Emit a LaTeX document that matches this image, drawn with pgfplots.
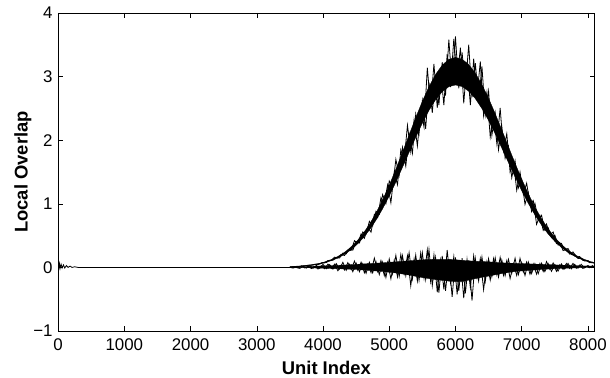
\documentclass[border=0pt]{standalone}
\usepackage{fontspec}
\setmainfont{Liberation Sans}
\usepackage{pgfplots}
\pgfplotsset{compat=1.18}
\begin{document}
\begin{tikzpicture}
\begin{axis}[
  scale only axis, width=538bp, height=319bp,
  xmin=0, xmax=8100, ymin=-1, ymax=4,
  xtick={0,1000,2000,3000,4000,5000,6000,7000,8000},
  ytick={-1,0,1,2,3,4},
  yticklabels={−1,0,1,2,3,4},
  xticklabels={0,1000,2000,3000,4000,5000,6000,7000,8000},
  tick align=inside, xtick pos=both, ytick pos=both,
  major tick length=5bp,
  axis line style={line width=0.7bp},
  every tick/.style={black, line width=0.5bp},
  tick label style={font=\fontsize{17}{19}\selectfont},
  xticklabel style={yshift=-4bp},
  yticklabel style={xshift=-2bp},
  every axis y label/.style={at={(axis description cs:-0.0656,0.5)},rotate=90,anchor=center,font=\fontsize{18.5}{20}\selectfont\bfseries},
  every axis x label/.style={at={(axis description cs:0.5,-0.115)},anchor=center,font=\fontsize{18.5}{20}\selectfont\bfseries},
  xlabel={Unit Index}, ylabel={Local Overlap},
  scaled x ticks=false,
]
% baseline and start bump
\addplot[black, line width=0.8bp] coordinates {(0,0.07)(10,-0.02)(20,0.06)(30,-0.015)(45,0.05)(60,-0.01)(80,0.04)(100,-0.01)(125,0.03)(150,0)(180,0.02)(210,0)(250,0.01)(300,0)(3500,0)};
% big band core
\addplot[fill=black, draw=black, line width=0.3bp] coordinates {(3500,0.010)(3600,0.015)(3700,0.023)(3800,0.035)(3900,0.052)(4000,0.078)(4100,0.112)(4200,0.158)(4300,0.219)(4400,0.299)(4500,0.399)(4600,0.525)(4700,0.676)(4800,0.855)(4900,1.061)(5000,1.292)(5100,1.544)(5200,1.812)(5300,2.084)(5400,2.355)(5500,2.611)(5600,2.841)(5700,3.034)(5800,3.180)(5900,3.271)(6000,3.302)(6100,3.273)(6200,3.190)(6300,3.054)(6400,2.874)(6500,2.659)(6600,2.418)(6700,2.160)(6800,1.898)(6900,1.638)(7000,1.389)(7100,1.159)(7200,0.949)(7300,0.765)(7400,0.605)(7500,0.471)(7600,0.360)(7700,0.271)(7800,0.200)(7900,0.146)(8000,0.104)(8100,0.072)
(8100,0.063)(8000,0.091)(7900,0.127)(7800,0.174)(7700,0.235)(7600,0.313)(7500,0.409)(7400,0.525)(7300,0.664)(7200,0.824)(7100,1.006)(7000,1.206)(6900,1.423)(6800,1.648)(6700,1.876)(6600,2.100)(6500,2.310)(6400,2.497)(6300,2.653)(6200,2.770)(6100,2.843)(6000,2.868)(5900,2.841)(5800,2.762)(5700,2.635)(5600,2.468)(5500,2.268)(5400,2.045)(5300,1.810)(5200,1.573)(5100,1.341)(5000,1.122)(4900,0.921)(4800,0.743)(4700,0.587)(4600,0.456)(4500,0.347)(4400,0.260)(4300,0.191)(4200,0.137)(4100,0.097)(4000,0.068)(3900,0.045)(3800,0.031)(3700,0.020)(3600,0.013)(3500,0.008)} -- cycle;
% big band noise (a)
\addplot[black, line width=0.8bp] coordinates {(3500,0.010)(3550,0.010)(3600,0.016)(3650,0.016)(3700,0.025)(3750,0.025)(3800,0.039)(3850,0.037)(3900,0.054)(3950,0.052)(4000,0.078)(4050,0.076)(4100,0.114)(4150,0.113)(4200,0.158)(4250,0.149)(4300,0.225)(4350,0.212)(4400,0.298)(4450,0.271)(4500,0.405)(4550,0.384)(4600,0.557)(4650,0.522)(4700,0.724)(4750,0.652)(4800,0.883)(4850,0.834)(4900,1.145)(4950,1.003)(5000,1.359)(5050,1.250)(5100,1.697)(5150,1.448)(5200,1.888)(5250,1.591)(5300,2.094)(5350,1.793)(5400,2.410)(5450,2.100)(5500,2.624)(5550,2.179)(5600,2.908)(5650,2.431)(5700,3.020)(5750,2.550)(5800,3.225)(5850,2.700)(5900,3.580)(5950,2.877)(6000,3.630)(6050,2.816)(6100,3.380)(6150,2.827)(6200,3.500)(6250,2.673)(6300,3.212)(6350,2.621)(6400,3.158)(6450,2.393)(6500,2.772)(6550,2.076)(6600,2.429)(6650,1.849)(6700,2.211)(6750,1.715)(6800,1.907)(6850,1.410)(6900,1.676)(6950,1.249)(7000,1.382)(7050,0.991)(7100,1.175)(7150,0.878)(7200,1.007)(7250,0.746)(7300,0.819)(7350,0.582)(7400,0.625)(7450,0.467)(7500,0.508)(7550,0.352)(7600,0.379)(7650,0.276)(7700,0.297)(7750,0.201)(7800,0.209)(7850,0.140)(7900,0.147)(7950,0.100)(8000,0.107)(8050,0.074)(8100,0.073)};
% big band noise (b)
\addplot[black, line width=0.8bp] coordinates {(3525,0.009)(3575,0.013)(3625,0.013)(3675,0.022)(3725,0.023)(3775,0.035)(3825,0.035)(3875,0.050)(3925,0.044)(3975,0.071)(4025,0.069)(4075,0.109)(4125,0.109)(4175,0.161)(4225,0.145)(4275,0.206)(4325,0.188)(4375,0.271)(4425,0.267)(4475,0.421)(4525,0.375)(4575,0.527)(4625,0.458)(4675,0.628)(4725,0.554)(4775,0.835)(4825,0.782)(4875,1.098)(4925,1.007)(4975,1.296)(5025,1.017)(5075,1.487)(5125,1.300)(5175,1.850)(5225,1.677)(5275,2.234)(5325,1.819)(5375,2.320)(5425,1.908)(5475,2.488)(5525,2.207)(5575,3.139)(5625,2.525)(5675,3.199)(5725,2.510)(5775,3.102)(5825,2.550)(5875,3.358)(5925,2.836)(5975,3.593)(6025,2.973)(6075,3.454)(6125,2.580)(6175,3.229)(6225,2.551)(6275,3.280)(6325,2.687)(6375,3.237)(6425,2.385)(6475,2.753)(6525,2.051)(6575,2.421)(6625,1.945)(6675,2.507)(6725,1.829)(6775,2.102)(6825,1.497)(6875,1.678)(6925,1.212)(6975,1.498)(7025,1.149)(7075,1.324)(7125,0.996)(7175,1.052)(7225,0.677)(7275,0.813)(7325,0.584)(7375,0.683)(7425,0.508)(7475,0.557)(7525,0.373)(7575,0.392)(7625,0.265)(7675,0.285)(7725,0.208)(7775,0.244)(7825,0.162)(7875,0.170)(7925,0.110)(7975,0.112)(8025,0.074)(8075,0.083)};
% small band core
\addplot[fill=black, draw=black, line width=0.3bp] coordinates {(3500,0.004)(3700,0.012)(3900,0.02)(4100,0.028)(4300,0.036)(4500,0.048)(4700,0.06)(4900,0.072)(5100,0.088)(5300,0.104)(5500,0.12)(5700,0.128)(5900,0.128)(6000,0.12)(6100,0.112)(6300,0.096)(6500,0.088)(6700,0.072)(6900,0.064)(7100,0.056)(7300,0.048)(7500,0.04)(7700,0.032)(7900,0.024)(8100,0.02)
(8100,0.004)(7900,-0.004)(7700,-0.012)(7500,-0.02)(7300,-0.032)(7100,-0.048)(6900,-0.064)(6700,-0.096)(6500,-0.136)(6300,-0.176)(6100,-0.224)(6000,-0.224)(5900,-0.216)(5700,-0.192)(5500,-0.16)(5300,-0.12)(5100,-0.088)(4900,-0.064)(4700,-0.048)(4500,-0.032)(4300,-0.024)(4100,-0.016)(3900,-0.01)(3700,-0.004)(3500,-0.004)} -- cycle;
% small band noise (a)
\addplot[black, line width=0.8bp] coordinates {(3500,0.006)(3550,-0.010)(3600,0.008)(3650,-0.015)(3700,0.016)(3750,-0.010)(3800,0.027)(3850,-0.014)(3900,0.032)(3950,-0.014)(4000,0.048)(4050,-0.021)(4100,0.045)(4150,-0.027)(4200,0.060)(4250,-0.028)(4300,0.080)(4350,-0.046)(4400,0.050)(4450,-0.068)(4500,0.068)(4550,-0.068)(4600,0.060)(4650,-0.093)(4700,0.081)(4750,-0.085)(4800,0.090)(4850,-0.113)(4900,0.085)(4950,-0.158)(5000,0.133)(5050,-0.103)(5100,0.189)(5150,-0.145)(5200,0.184)(5250,-0.130)(5300,0.233)(5350,-0.180)(5400,0.195)(5450,-0.204)(5500,0.230)(5550,-0.190)(5600,0.280)(5650,-0.287)(5700,0.154)(5750,-0.396)(5800,0.182)(5850,-0.370)(5900,0.135)(5950,-0.464)(6000,0.156)(6050,-0.370)(6100,0.144)(6150,-0.406)(6200,0.110)(6250,-0.520)(6300,0.140)(6350,-0.213)(6400,0.162)(6450,-0.220)(6500,0.136)(6550,-0.147)(6600,0.152)(6650,-0.152)(6700,0.116)(6750,-0.131)(6800,0.128)(6850,-0.094)(6900,0.145)(6950,-0.114)(7000,0.077)(7050,-0.126)(7100,0.085)(7150,-0.096)(7200,0.060)(7250,-0.098)(7300,0.066)(7350,-0.066)(7400,0.060)(7450,-0.062)(7500,0.045)(7550,-0.058)(7600,0.056)(7650,-0.025)(7700,0.063)(7750,-0.023)(7800,0.048)(7850,-0.013)(7900,0.048)(7950,-0.009)(8000,0.030)(8050,-0.003)(8100,0.026)};
% small band noise (b)
\addplot[black, line width=0.8bp] coordinates {(3525,-0.010)(3575,0.006)(3625,-0.011)(3675,0.023)(3725,-0.009)(3775,0.018)(3825,-0.018)(3875,0.017)(3925,-0.026)(3975,0.026)(4025,-0.022)(4075,0.052)(4125,-0.017)(4175,0.051)(4225,-0.053)(4275,0.039)(4325,-0.041)(4375,0.075)(4425,-0.033)(4475,0.100)(4525,-0.046)(4575,0.082)(4625,-0.085)(4675,0.053)(4725,-0.082)(4775,0.147)(4825,-0.064)(4875,0.107)(4925,-0.129)(4975,0.083)(5025,-0.180)(5075,0.113)(5125,-0.150)(5175,0.203)(5225,-0.100)(5275,0.182)(5325,-0.290)(5375,0.129)(5425,-0.215)(5475,0.228)(5525,-0.167)(5575,0.278)(5625,-0.223)(5675,0.196)(5725,-0.390)(5775,0.112)(5825,-0.343)(5875,0.273)(5925,-0.241)(5975,0.171)(6025,-0.422)(6075,0.110)(6125,-0.482)(6175,0.124)(6225,-0.320)(6275,0.185)(6325,-0.161)(6375,0.139)(6425,-0.349)(6475,0.087)(6525,-0.198)(6575,0.139)(6625,-0.118)(6675,0.157)(6725,-0.125)(6775,0.106)(6825,-0.175)(6875,0.059)(6925,-0.127)(6975,0.142)(7025,-0.073)(7075,0.086)(7125,-0.106)(7175,0.055)(7225,-0.107)(7275,0.062)(7325,-0.064)(7375,0.093)(7425,-0.031)(7475,0.070)(7525,-0.062)(7575,0.042)(7625,-0.031)(7675,0.062)(7725,-0.017)(7775,0.063)(7825,-0.015)(7875,0.037)(7925,-0.016)(7975,0.017)(8025,-0.006)(8075,0.033)};
\end{axis}
\path (-58.3bp,-47bp) rectangle (551.7bp,332bp);
\end{tikzpicture}
\end{document}
